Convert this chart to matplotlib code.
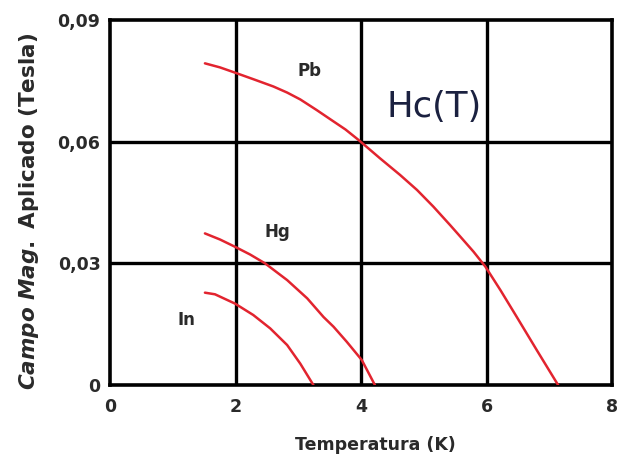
import matplotlib
matplotlib.use("Agg")
import matplotlib.pyplot as plt

# critical field curves Hc(T): temperature in K, field in T
pb_t = [1.51, 1.75, 1.99, 2.28, 2.60, 2.82, 3.03, 3.29, 3.51, 3.75, 3.96,
        4.30, 4.62, 4.89, 5.15, 5.42, 5.58, 5.79, 5.98, 6.22, 6.48, 6.80, 7.14]
pb_h = [0.0793, 0.0783, 0.0770, 0.0754, 0.0736, 0.0721, 0.0704, 0.0678, 0.0655, 0.0630, 0.0604,
        0.0559, 0.0518, 0.0481, 0.0440, 0.0394, 0.0366, 0.0329, 0.0292, 0.0234, 0.0168, 0.0086, 0.0]

hg_t = [1.51, 1.75, 1.99, 2.23, 2.47, 2.82, 3.14, 3.40, 3.56, 3.77, 4.01, 4.22]
hg_h = [0.0374, 0.0359, 0.0341, 0.0322, 0.0300, 0.0259, 0.0214, 0.0168, 0.0144, 0.0107, 0.0062, 0.0]

in_t = [1.51, 1.67, 1.99, 2.28, 2.55, 2.82, 3.03, 3.24]
in_h = [0.0228, 0.0224, 0.0201, 0.0173, 0.0140, 0.0099, 0.0053, 0.0]

x_ticks = [0, 2, 4, 6, 8]
y_ticks = [0, 0.03, 0.06, 0.09]
y_tick_labels = ["0", "0,03", "0,06", "0,09"]

plt.rcParams["font.family"] = ["DejaVu Sans"]
plt.rcParams["mathtext.fontset"] = "custom"
plt.rcParams["mathtext.it"] = "DejaVu Sans:italic:bold"
plt.rcParams["mathtext.rm"] = "DejaVu Sans:bold"

ink = "#2a2a2a"

fig = plt.figure(figsize=(6.19, 4.63), dpi=100)
ax = fig.add_axes([0.178, 0.168, 0.811, 0.789])

ax.set_xlim(0, 8)
ax.set_ylim(0, 0.09)

# thick black grid on the inner divisions
for x in x_ticks[1:-1]:
    ax.axvline(x, color="black", lw=2.4, zorder=1)
for y in y_ticks[1:-1]:
    ax.axhline(y, color="black", lw=2.4, zorder=1)

for side in ax.spines.values():
    side.set_linewidth(2.6)
    side.set_color("black")

red = "#e2242f"
for t, h in [(pb_t, pb_h), (hg_t, hg_h), (in_t, in_h)]:
    ax.plot(t, h, color=red, lw=1.8, solid_capstyle="round", solid_joinstyle="round", zorder=3)

ax.text(3.18, 0.0774, "Pb", fontsize=12, fontweight="bold", color=ink,
        ha="center", va="center")
ax.text(2.66, 0.0377, "Hg", fontsize=12, fontweight="bold", color=ink,
        ha="center", va="center")
ax.text(1.21, 0.0160, "In", fontsize=12, fontweight="bold", color=ink,
        ha="center", va="center")
ax.text(5.16, 0.0685, "Hc(T)", fontsize=25.5, color="#1b2140",
        ha="center", va="center")

ax.set_xticks(x_ticks)
ax.set_xticklabels([str(v) for v in x_ticks], fontsize=12.5, fontweight="bold", color=ink)
ax.set_yticks(y_ticks)
ax.set_yticklabels(y_tick_labels, fontsize=12.5, fontweight="bold", color=ink)
ax.tick_params(length=0, pad=7)
ax.tick_params(axis="x", pad=9)

ax.set_xlabel("Temperatura (K)", fontsize=12.5, fontweight="bold", color=ink)
ax.xaxis.label.set_va("center")
ax.xaxis.set_label_coords(0.528, -0.164)

ax.set_ylabel(r"$\mathit{Campo\ Mag.}$ Aplicado (Tesla)", fontsize=15.5,
              fontweight="bold", color=ink)
ax.yaxis.label.set_va("center")
ax.yaxis.set_label_coords(-0.161, 0.477)

fig.savefig("out.png", dpi=100, facecolor="white")
